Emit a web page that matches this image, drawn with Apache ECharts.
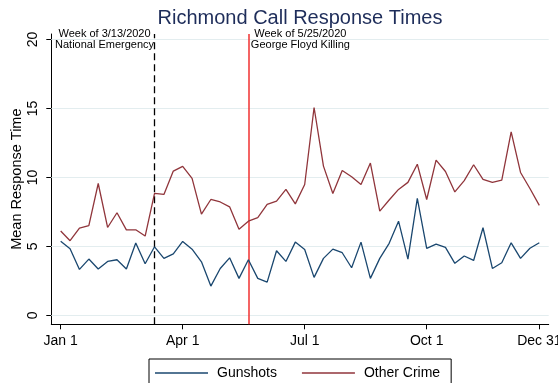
<!DOCTYPE html>
<html>
<head>
<meta charset="utf-8">
<style>
  html, body { margin: 0; padding: 0; background: #fff; }
  #chart { width: 558px; height: 383px; }
</style>
<script src="https://cdn.jsdelivr.net/npm/echarts@6/dist/echarts.min.js"></script>
</head>
<body>
<div id="chart"></div>
<script>
// Week of year (2020) for each observation
const weeks = [1,2,3,4,5,6,7,8,9,10,11,12,13,14,15,16,17,18,19,20,21,22,23,24,25,26,
  27,28,29,30,31,32,33,34,35,36,37,38,39,40,41,42,43,44,45,46,47,48,49,50,51,52];

// Mean response time (minutes) per week
const gunshots = [5.38,4.83,3.33,4.08,3.36,3.91,4.03,3.36,5.25,3.74,4.97,4.13,4.46,5.36,4.80,3.88,
  2.12,3.40,4.17,2.68,4.03,2.68,2.41,4.68,3.91,5.31,4.77,2.75,4.13,4.80,4.54,3.45,5.31,2.68,
  4.13,5.22,6.83,4.08,8.48,4.86,5.17,4.93,3.77,4.30,3.98,6.35,3.40,3.81,5.26,4.13,4.86,5.26];
const otherCrime = [6.11,5.41,6.33,6.50,9.56,6.37,7.44,6.20,6.20,5.75,8.84,8.77,10.46,10.80,9.93,7.34,
  8.40,8.22,7.87,6.25,6.83,7.08,8.04,8.28,9.13,8.08,9.49,15.07,10.82,8.84,10.50,10.05,9.49,11.04,
  7.56,8.36,9.13,9.64,10.96,8.40,11.25,10.43,8.95,9.77,10.92,9.86,9.64,9.80,13.30,10.36,9.20,7.97];

// Axis ticks
const xTickWeeks = [1, 14, 27, 40, 52];
const xTickLabels = ['Jan 1', 'Apr 1', 'Jul 1', 'Oct 1', 'Dec 31'];
const yTicks = [0, 5, 10, 15, 20];

// Event markers
const events = [
  { week: 11, y: 20, lines: ['Week of 3/13/2020', 'National Emergency'], side: 'left' },
  { week: 21, y: 20, lines: ['Week of 5/25/2020', 'George Floyd Killing'], side: 'right' }
];

const FONT = '"Liberation Sans", Arial, Helvetica, sans-serif';
const BLUE = '#1a476f';
const RED = '#90353b';
const Y_MIN = -0.65, Y_MAX = 20.4;

const chart = echarts.init(document.getElementById('chart'), null, { renderer: 'canvas' });

function pairs(vals) { return weeks.map((w, i) => [w, vals[i]]); }

chart.setOption({
  animation: false,
  backgroundColor: '#ffffff',
  textStyle: { fontFamily: FONT },
  title: {
    text: 'Richmond Call Response Times',
    left: 295, top: 3, textAlign: 'center',
    textStyle: { fontFamily: FONT, fontSize: 20, fontWeight: 'normal', color: '#1e2d5a' }
  },
  legend: {
    left: 149, top: 359,
    orient: 'horizontal',
    padding: [7, 11, 6, 6],
    borderColor: '#000', borderWidth: 1,
    icon: 'rect',
    itemWidth: 53, itemHeight: 1.4, itemGap: 25,
    textStyle: { fontFamily: FONT, fontSize: 14, color: '#000', padding: [0, 0, 0, 4] },
    data: ['Gunshots', 'Other Crime']
  },
  grid: {
    left: 51.3, right: 9.3, top: 34, bottom: 58.7,
    containLabel: false, outerBoundsMode: 'none'
  },
  xAxis: {
    type: 'value', min: 0, max: 53,
    axisLine: { onZero: false, lineStyle: { color: '#000', width: 1 } },
    axisTick: { customValues: xTickWeeks, length: 5, lineStyle: { color: '#000' } },
    axisLabel: {
      customValues: xTickWeeks, margin: 10,
      fontFamily: FONT, fontSize: 14, color: '#000',
      formatter: v => xTickLabels[xTickWeeks.indexOf(v)]
    },
    splitLine: { show: false }
  },
  yAxis: [
    {
      type: 'value', min: Y_MIN, max: Y_MAX, position: 'left',
      axisLine: { onZero: false, lineStyle: { color: '#000', width: 1 } },
      axisTick: { customValues: yTicks, length: 5, lineStyle: { color: '#000' } },
      axisLabel: {
        customValues: yTicks, rotate: 90, margin: 11,
        fontFamily: FONT, fontSize: 14, color: '#000'
      },
      splitLine: { show: false }
    },
    {
      // carries only the axis title
      type: 'value', min: Y_MIN, max: Y_MAX, position: 'left', offset: 0,
      name: 'Mean Response Time', nameLocation: 'middle', nameGap: 27,
      nameTextStyle: { fontFamily: FONT, fontSize: 14.5, color: '#000' },
      axisLine: { show: false }, axisTick: { show: false },
      axisLabel: { show: false }, splitLine: { show: false }
    }
  ],
  series: [
    {
      name: 'Gunshots', type: 'line', data: pairs(gunshots),
      symbol: 'none', color: BLUE, z: 4,
      lineStyle: { color: BLUE, width: 1.3 },
      markLine: {
        silent: true, symbol: 'none', label: { show: false }, z: 1,
        lineStyle: { color: '#e3edef', width: 1, type: 'solid' },
        data: yTicks.map(v => ({ yAxis: v }))
      }
    },
    {
      name: 'Other Crime', type: 'line', data: pairs(otherCrime),
      symbol: 'none', color: RED, z: 4,
      lineStyle: { color: RED, width: 1.3 },
      markLine: {
        silent: true, symbol: 'none', label: { show: false }, z: 2,
        data: [
          { xAxis: events[0].week, lineStyle: { color: '#000', width: 1.3, type: [7, 4] } },
          { xAxis: events[1].week, lineStyle: { color: '#f03030', width: 1.5, type: 'solid' } }
        ]
      },
      markPoint: {
        silent: true, symbol: 'circle', symbolSize: 0,
        data: events.map(e => ({
          coord: [e.week, e.y],
          label: {
            show: true, position: 'inside', align: 'center', verticalAlign: 'middle',
            offset: [e.side === 'left' ? -50 : 52, 0],
            formatter: e.lines.join('\n'),
            fontFamily: FONT, fontSize: 11, lineHeight: 11.5, color: '#000'
          }
        }))
      }
    }
  ]
});
</script>
</body>
</html>
